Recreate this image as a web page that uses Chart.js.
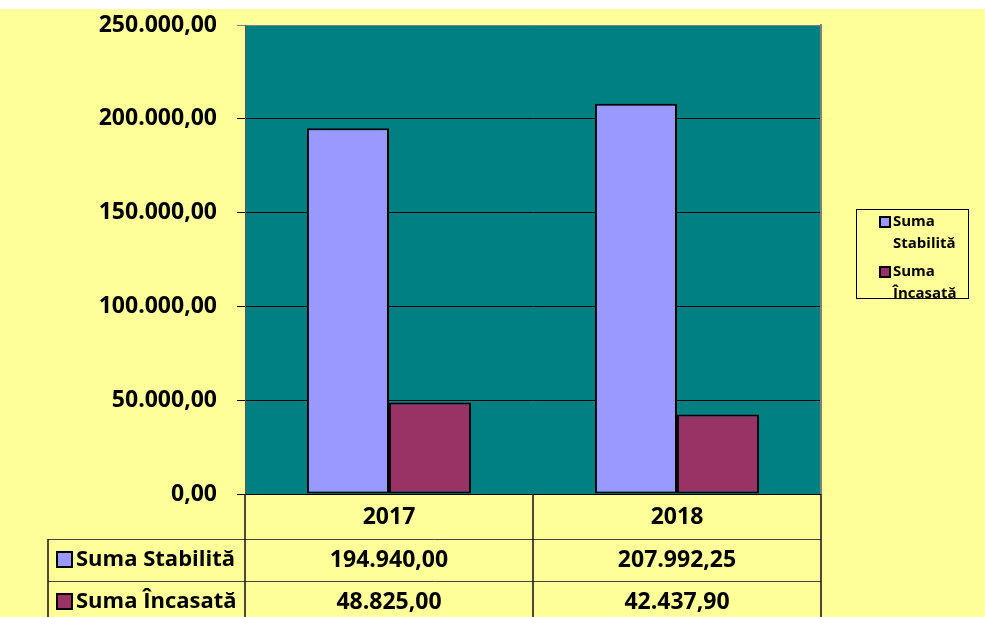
<!DOCTYPE html>
<html>
<head>
<meta charset="utf-8">
<script src="https://cdn.jsdelivr.net/npm/chart.js@4/dist/chart.umd.min.js"></script>
<style>
html,body{margin:0;padding:0;background:#fff;}
canvas{display:block;}
</style>
</head>
<body>
<canvas id="c" width="985" height="617"></canvas>
<script>
const categories = ['2017', '2018'];
const seriesNames = ['Suma Stabilită', 'Suma Încasată'];
const sumaStabilita = [194940.00, 207992.25];
const sumaIncasata = [48825.00, 42437.90];
const yTicks = [0, 50000, 100000, 150000, 200000, 250000];
const seriesColors = ['#9999FF', '#993366'];

const FONT = '"Open Sans", "Liberation Sans", sans-serif';

function fmt(n) {
  const parts = n.toFixed(2).split('.');
  parts[0] = parts[0].replace(/\B(?=(\d{3})+(?!\d))/g, '.');
  return parts[0] + ',' + parts[1];
}

const bgPlugin = {
  id: 'bg',
  beforeDraw(chart) {
    const ctx = chart.ctx, a = chart.chartArea;
    ctx.save();
    ctx.fillStyle = '#ffffff';
    ctx.fillRect(0, 0, chart.width, chart.height);
    ctx.fillStyle = '#FFFF99';
    ctx.fillRect(0, 9, chart.width, chart.height - 9);
    ctx.fillStyle = '#008080';
    ctx.fillRect(a.left, a.top, a.right - a.left, a.bottom - a.top);
    ctx.restore();
  }
};

const tablePlugin = {
  id: 'datatable',
  afterDraw(chart) {
    const ctx = chart.ctx, a = chart.chartArea;
    const xs = chart.scales.x;
    const n = categories.length;
    const cw = (a.right - a.left) / n;
    const headerBottom = a.bottom + 45;
    const rowH = 42;
    const tableLeft = 48;
    ctx.save();
    ctx.strokeStyle = '#808080';
    ctx.lineWidth = 2;
    ctx.beginPath();
    ctx.moveTo(a.right, a.top - 1);
    ctx.lineTo(a.right, a.bottom);
    ctx.stroke();

    ctx.strokeStyle = '#444';
    ctx.lineWidth = 1;
    for (let r = 0; r < seriesNames.length; r++) {
      const y = Math.round(headerBottom + r * rowH) + 0.5;
      ctx.beginPath();
      ctx.moveTo(tableLeft, y);
      ctx.lineTo(a.right, y);
      ctx.stroke();
    }
    ctx.strokeStyle = '#111';
    ctx.lineWidth = 1.5;
    for (let i = 0; i <= n; i++) {
      const x = a.left + i * cw;
      ctx.beginPath();
      ctx.moveTo(x, a.bottom);
      ctx.lineTo(x, chart.height);
      ctx.stroke();
    }
    ctx.beginPath();
    ctx.moveTo(tableLeft, headerBottom);
    ctx.lineTo(tableLeft, chart.height);
    ctx.stroke();

    ctx.fillStyle = '#000';
    ctx.textAlign = 'center';
    ctx.textBaseline = 'middle';
    ctx.font = 'bold 23px ' + FONT;
    categories.forEach((c, i) => {
      ctx.fillText(c, xs.getPixelForValue(i), (a.bottom + headerBottom) / 2 + 1);
    });
    const data = [sumaStabilita, sumaIncasata];
    for (let r = 0; r < seriesNames.length; r++) {
      const yc = headerBottom + r * rowH + rowH / 2;
      ctx.font = 'bold 23px ' + FONT;
      ctx.textAlign = 'center';
      data[r].forEach((v, i) => {
        ctx.fillText(fmt(v), xs.getPixelForValue(i), yc);
      });
      ctx.fillStyle = seriesColors[r];
      ctx.fillRect(57, yc - 8, 15, 15);
      ctx.strokeStyle = '#000';
      ctx.lineWidth = 2;
      ctx.strokeRect(57, yc - 8, 15, 15);
      ctx.fillStyle = '#000';
      ctx.textAlign = 'left';
      ctx.font = 'bold 22px ' + FONT;
      ctx.fillText(seriesNames[r], 76, yc);
    }
    ctx.restore();
  }
};

const legendPlugin = {
  id: 'sideLegend',
  afterDraw(chart) {
    const ctx = chart.ctx;
    ctx.save();
    ctx.fillStyle = '#FFFF99';
    ctx.fillRect(856, 209, 112, 89);
    ctx.strokeStyle = '#000';
    ctx.lineWidth = 1;
    ctx.strokeRect(856.5, 209.5, 112, 89);
    ctx.font = 'bold 15px ' + FONT;
    ctx.textBaseline = 'middle';
    ctx.textAlign = 'left';
    const tops = [222, 272];
    seriesNames.forEach((name, i) => {
      const y = tops[i];
      ctx.fillStyle = seriesColors[i];
      ctx.fillRect(880, y - 5, 10, 10);
      ctx.strokeStyle = '#000';
      ctx.lineWidth = 2;
      ctx.strokeRect(880, y - 5, 10, 10);
      ctx.fillStyle = '#000';
      const words = name.split(' ');
      ctx.fillText(words[0], 893, y);
      ctx.fillText(words.slice(1).join(' '), 893, y + 22);
    });
    ctx.restore();
  }
};

new Chart(document.getElementById('c'), {
  type: 'bar',
  data: {
    labels: categories,
    datasets: [
      { label: seriesNames[0], data: sumaStabilita, backgroundColor: seriesColors[0],
        borderColor: '#000', borderWidth: 2, borderSkipped: false },
      { label: seriesNames[1], data: sumaIncasata, backgroundColor: seriesColors[1],
        borderColor: '#000', borderWidth: 2, borderSkipped: false }
    ]
  },
  options: {
    responsive: false,
    devicePixelRatio: 1,
    animation: false,
    layout: { padding: { top: 25, bottom: 123, right: 164, left: 0 } },
    plugins: { legend: { display: false }, tooltip: { enabled: false } },
    datasets: { bar: { barPercentage: 1, categoryPercentage: 0.57 } },
    scales: {
      x: { display: false },
      y: {
        min: 0, max: 250000,
        afterFit(scale) { scale.width = 245; scale.paddingTop = 0; scale.paddingBottom = 0; },
        afterBuildTicks(scale) { scale.ticks = yTicks.map(v => ({ value: v })); },
        ticks: {
          padding: 20,
          color: '#000',
          font: { family: FONT, weight: 'bold', size: 23 },
          callback: (v) => fmt(v)
        },
        grid: {
          color: (c) => c.tick && c.tick.value === 250000 ? '#808080' : '#000',
          lineWidth: 1,
          tickLength: 8,
          drawTicks: true
        },
        border: { display: true, color: '#555', width: 1 }
      }
    }
  },
  plugins: [bgPlugin, tablePlugin, legendPlugin]
});
</script>
</body>
</html>
